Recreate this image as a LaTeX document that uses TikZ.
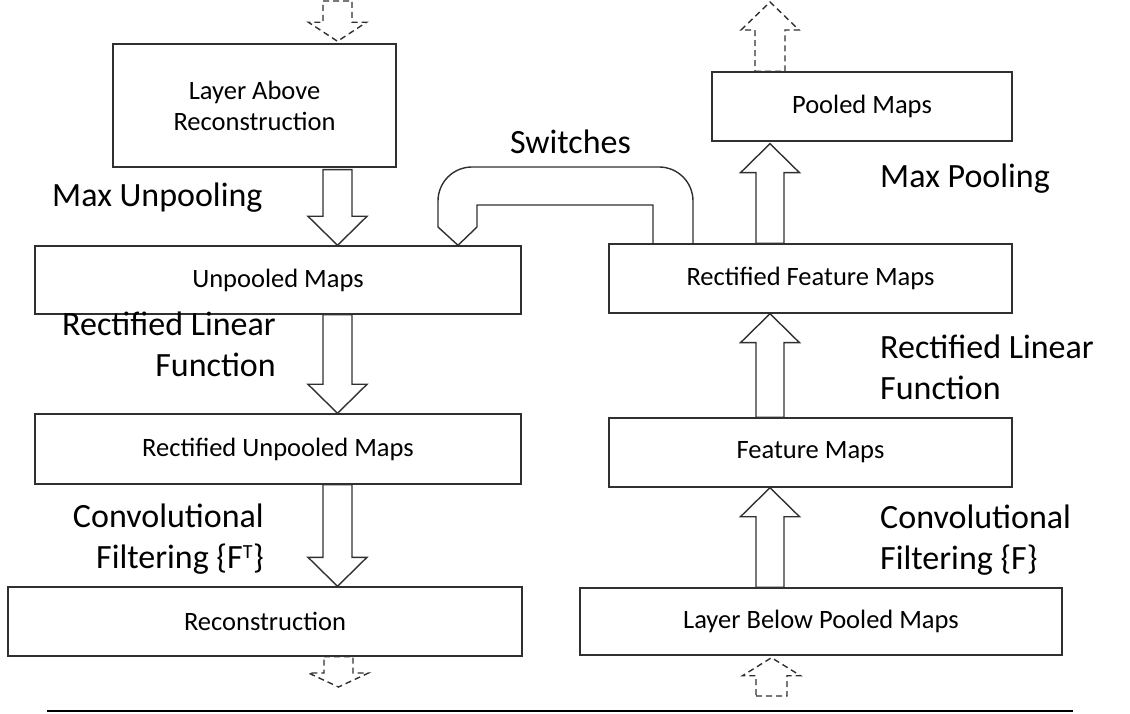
\documentclass[tikz,border=0pt]{standalone}
\usepackage{fontspec}
\setmainfont{Carlito}
\usetikzlibrary{calc}
\definecolor{linegray}{HTML}{303030}
\newcommand\boxfont{\fontsize{26.5}{31}\selectfont}
\newcommand\lblfont{\fontsize{34}{41}\selectfont}
% block arrow pointing down: style, tail point, tip point, axis x, shaft half width, head half width, head length
\newcommand\arrowdown[7]{%
  \path[#1] let \p1=(#2), \p2=(#3) in
  (#4-#5,\y1) -- (#4+#5,\y1) -- (#4+#5,\y2+#7) -- (#4+#6,\y2+#7) -- (#4,\y2)
  -- (#4-#6,\y2+#7) -- (#4-#5,\y2+#7) -- cycle;}
% block arrow pointing up: same arguments
\newcommand\arrowup[7]{%
  \path[#1] let \p1=(#2), \p2=(#3) in
  (#4-#5,\y1) -- (#4+#5,\y1) -- (#4+#5,\y2-#7) -- (#4+#6,\y2-#7) -- (#4,\y2)
  -- (#4-#6,\y2-#7) -- (#4-#5,\y2-#7) -- cycle;}
\tikzset{
  box/.style={draw=linegray, line width=1.4pt, inner sep=0pt, align=center, font=\boxfont},
  blk/.style={draw=linegray, line width=1.4pt, line join=miter},
  dsh/.style={draw=linegray, line width=1.4pt, dash pattern=on 6pt off 4pt},
  lbl/.style={inner sep=0pt, font=\lblfont},
}
\begin{document}
\begin{tikzpicture}[x=1pt, y=1pt]
\useasboundingbox (0,0) rectangle (1130,713);

% left column: deconvolution path
\node[box, minimum width=283pt, minimum height=123pt] (above) at (254.5,607.5) {Layer Above\\Reconstruction};
\node[box, minimum width=486pt, minimum height=68pt] (unpool) at (278,433) {Unpooled Maps};
\node[box, minimum width=486pt, minimum height=70pt] (runpool) at (278,264) {Rectified Unpooled Maps};
\node[box, minimum width=514pt, minimum height=69pt] (recon) at (265,91.5) {Reconstruction};

% right column: convolution path
\node[box, minimum width=300pt, minimum height=69pt] (pooled) at (862,606.5) {Pooled Maps};
\node[box, minimum width=403pt, minimum height=69pt] (rfeat) at (810.5,434.5) {Rectified Feature Maps};
\node[box, minimum width=403pt, minimum height=69pt] (feat) at (810.5,260.5) {Feature Maps};
\node[box, minimum width=482pt, minimum height=67pt] (below) at (821,91.5) {Layer Below Pooled Maps};

% solid block arrows
\arrowdown{blk}{$(above.south)-(0,2)$}{unpool.north}{337.5pt}{14.5pt}{29.5pt}{29pt}
\arrowdown{blk}{unpool.south}{runpool.north}{337.5pt}{14.5pt}{29.5pt}{29pt}
\arrowdown{blk}{runpool.south}{recon.north}{337.5pt}{14.5pt}{29.5pt}{29pt}
\arrowup{blk}{below.north}{feat.south}{770pt}{14pt}{29.5pt}{29pt}
\arrowup{blk}{feat.north}{rfeat.south}{770pt}{14pt}{29.5pt}{29pt}
\arrowup{blk}{rfeat.north}{$(pooled.south)-(0,2)$}{770pt}{14pt}{29.5pt}{29pt}

% dashed arrows to and from the neighbouring layers
\coordinate (topin) at (337.5,712);
\coordinate (topout) at (770,711);
\coordinate (botout) at (338.5,26);
\coordinate (botin) at (771.5,17);
\arrowdown{dsh}{topin}{$(above.north)+(0,2)$}{337.5pt}{14.5pt}{29pt}{19pt}
\arrowup{dsh}{pooled.north}{topout}{770pt}{15pt}{29pt}{28pt}
\arrowdown{dsh}{recon.south}{botout}{338.5pt}{14.5pt}{30pt}{14pt}
\arrowup{dsh}{botin}{$(below.south)-(0,2)$}{771.5pt}{15.5pt}{29pt}{18pt}

% switches: bent tube from the rectified feature maps to the unpooled maps
\draw[blk] ($(rfeat.north)+(-117.5,0)$) -- (693,512)
  arc[start angle=0, end angle=90, radius=34] -- (472,546)
  arc[start angle=90, end angle=180, radius=34] -- (438,486)
  -- ($(unpool.north)+(180,0)$) -- (477,486) -- (477,508) -- (653,508)
  -- ($(rfeat.north)+(-157.5,0)$);

% operation labels (base anchor = baseline of the last line)
\node[lbl, anchor=base] (sw) at (570.5,559) {Switches};
\node[lbl, anchor=base west] (mu) at (52,506) {Max Unpooling};
\node[lbl, anchor=base east, align=right] (rlfl) at (276,336) {Rectified Linear\\Function};
\node[lbl, anchor=base east, align=right] (cfl) at (264,145) {Convolutional\\Filtering \{F\textsuperscript{\fontsize{20}{20}\selectfont T}\}};
\node[lbl, anchor=base west] (mp) at (880,525) {Max Pooling};
\node[lbl, anchor=base west, align=left] (rlfr) at (880,313) {Rectified Linear\\Function};
\node[lbl, anchor=base west, align=left] (cfr) at (880,144) {Convolutional\\Filtering \{F\}};

% rule under the figure
\coordinate (rl) at (47,2);
\coordinate (rr) at (1073,2);
\draw[line width=2.4pt, black] (rl) -- (rr);
\end{tikzpicture}
\end{document}
